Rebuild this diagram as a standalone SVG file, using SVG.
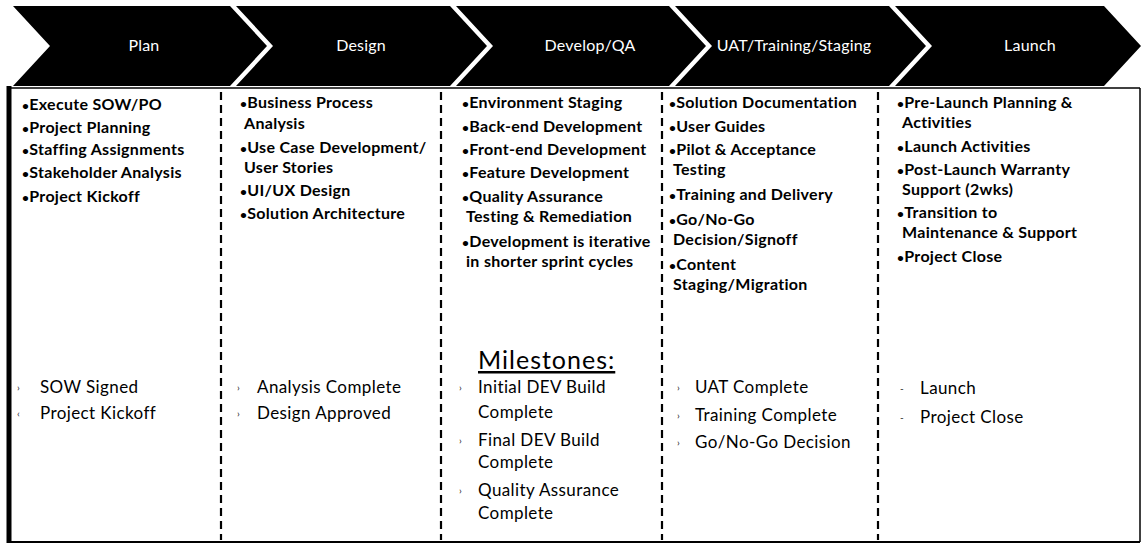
<svg xmlns="http://www.w3.org/2000/svg" width="1142" height="546" viewBox="0 0 1142 546">
  <style>
    .chev { fill: #000; }
    .head { font-family: Lato, "Open Sans", "Liberation Sans", sans-serif; font-size: 16px; letter-spacing: 0.2px; fill: #fff; text-anchor: middle; }
    .task { font-family: Lato, "Open Sans", "Liberation Sans", sans-serif; font-size: 16px; font-weight: 700; letter-spacing: 0.3px; fill: #000; }
    .bul { font-size: 12px; }
    .ms { font-family: Lato, "Open Sans", "Liberation Sans", sans-serif; font-size: 17px; letter-spacing: 0.4px; fill: #000; }
    .mb { font-family: Lato, "Liberation Sans", sans-serif; font-size: 10px; fill: #222; }
    .title { font-family: Lato, "Open Sans", "Liberation Sans", sans-serif; font-size: 25px; letter-spacing: 1px; fill: #000; text-decoration: underline; }
    .div { stroke: #000; stroke-width: 2.2; stroke-dasharray: 8 5; fill: none; }
    .frame { stroke: #000; fill: none; }
  </style>

  <rect width="1142" height="546" fill="#fff"/>

  <!-- outer frame of the phase table -->
  <g id="frame">
    <line class="frame" x1="9" y1="88" x2="1140" y2="88" stroke-width="1.5"/>
    <line class="frame" x1="1140" y1="88" x2="1140" y2="542" stroke-width="1.5"/>
    <line class="frame" x1="9" y1="542" x2="1140" y2="542" stroke-width="2.2"/>
    <line class="frame" x1="9" y1="86" x2="9" y2="543" stroke-width="5"/>
  </g>

  <!-- dashed column separators -->
  <g id="connectors">
    <line class="div" x1="221" y1="92" x2="221" y2="540"/>
    <line class="div" x1="441" y1="92" x2="441" y2="540"/>
    <line class="div" x1="662" y1="92" x2="662" y2="540"/>
    <line class="div" x1="878" y1="92" x2="878" y2="540"/>
  </g>

  <!-- Plan -->
  <g id="plan">
    <polygon class="chev" points="13,6 230,6 267,46 230,86 13,86 50,46"/>
    <text class="head" x="144" y="51">Plan</text>
    <text class="task" x="22" y="110"><tspan class="bul">•</tspan>Execute SOW/PO</text>
    <text class="task" x="22" y="133"><tspan class="bul">•</tspan>Project Planning</text>
    <text class="task" x="22" y="155"><tspan class="bul">•</tspan>Staffing Assignments</text>
    <text class="task" x="22" y="178"><tspan class="bul">•</tspan>Stakeholder Analysis</text>
    <text class="task" x="22" y="202"><tspan class="bul">•</tspan>Project Kickoff</text>
    <text class="mb" x="17" y="391">›</text>
    <text class="ms" x="40" y="393">SOW Signed</text>
    <text class="mb" x="17" y="417">‹</text>
    <text class="ms" x="40" y="419">Project Kickoff</text>
  </g>

  <!-- Design -->
  <g id="design">
    <polygon class="chev" points="236,6 450,6 487,46 450,86 236,86 273,46"/>
    <text class="head" x="361" y="51">Design</text>
    <text class="task" x="240" y="108"><tspan class="bul">•</tspan>Business Process</text>
    <text class="task" x="244" y="129">Analysis</text>
    <text class="task" x="240" y="153"><tspan class="bul">•</tspan>Use Case Development/</text>
    <text class="task" x="244" y="173">User Stories</text>
    <text class="task" x="240" y="196"><tspan class="bul">•</tspan>UI/UX Design</text>
    <text class="task" x="240" y="219"><tspan class="bul">•</tspan>Solution Architecture</text>
    <text class="mb" x="237" y="391">›</text>
    <text class="ms" x="257" y="393">Analysis Complete</text>
    <text class="mb" x="237" y="417">›</text>
    <text class="ms" x="257" y="419">Design Approved</text>
  </g>

  <!-- Develop/QA -->
  <g id="develop">
    <polygon class="chev" points="456,6 669,6 706,46 669,86 456,86 493,46"/>
    <text class="head" x="590" y="51">Develop/QA</text>
    <text class="task" x="462" y="108"><tspan class="bul">•</tspan>Environment Staging</text>
    <text class="task" x="462" y="132"><tspan class="bul">•</tspan>Back-end Development</text>
    <text class="task" x="462" y="155"><tspan class="bul">•</tspan>Front-end Development</text>
    <text class="task" x="462" y="178"><tspan class="bul">•</tspan>Feature Development</text>
    <text class="task" x="462" y="202"><tspan class="bul">•</tspan>Quality Assurance</text>
    <text class="task" x="466" y="222">Testing &amp; Remediation</text>
    <text class="task" x="462" y="247"><tspan class="bul">•</tspan>Development is iterative</text>
    <text class="task" x="466" y="267">in shorter sprint cycles</text>
    <text class="title" x="478" y="369">Milestones:</text>
    <text class="mb" x="459" y="391">›</text>
    <text class="ms" x="478" y="393">Initial DEV Build</text>
    <text class="ms" x="478" y="418">Complete</text>
    <text class="mb" x="459" y="444">›</text>
    <text class="ms" x="478" y="446">Final DEV Build</text>
    <text class="ms" x="478" y="468">Complete</text>
    <text class="mb" x="459" y="494">›</text>
    <text class="ms" x="478" y="496">Quality Assurance</text>
    <text class="ms" x="478" y="519">Complete</text>
  </g>

  <!-- UAT/Training/Staging -->
  <g id="uat">
    <polygon class="chev" points="675,6 889,6 926,46 889,86 675,86 712,46"/>
    <text class="head" x="794" y="51">UAT/Training/Staging</text>
    <text class="task" x="669" y="108"><tspan class="bul">•</tspan>Solution Documentation</text>
    <text class="task" x="669" y="132"><tspan class="bul">•</tspan>User Guides</text>
    <text class="task" x="669" y="155"><tspan class="bul">•</tspan>Pilot &amp; Acceptance</text>
    <text class="task" x="673" y="175">Testing</text>
    <text class="task" x="669" y="200"><tspan class="bul">•</tspan>Training and Delivery</text>
    <text class="task" x="669" y="225"><tspan class="bul">•</tspan>Go/No-Go</text>
    <text class="task" x="673" y="245">Decision/Signoff</text>
    <text class="task" x="669" y="270"><tspan class="bul">•</tspan>Content</text>
    <text class="task" x="673" y="290">Staging/Migration</text>
    <text class="mb" x="677" y="391">›</text>
    <text class="ms" x="695" y="393">UAT Complete</text>
    <text class="mb" x="677" y="419">›</text>
    <text class="ms" x="695" y="421">Training Complete</text>
    <text class="mb" x="677" y="446">›</text>
    <text class="ms" x="695" y="448">Go/No-Go Decision</text>
  </g>

  <!-- Launch -->
  <g id="launch">
    <polygon class="chev" points="895,6 1104,6 1141,46 1104,86 895,86 932,46"/>
    <text class="head" x="1030" y="51">Launch</text>
    <text class="task" x="897" y="108"><tspan class="bul">•</tspan>Pre-Launch Planning &amp;</text>
    <text class="task" x="902" y="128">Activities</text>
    <text class="task" x="897" y="152"><tspan class="bul">•</tspan>Launch Activities</text>
    <text class="task" x="897" y="175"><tspan class="bul">•</tspan>Post-Launch Warranty</text>
    <text class="task" x="902" y="195">Support (2wks)</text>
    <text class="task" x="897" y="218"><tspan class="bul">•</tspan>Transition to</text>
    <text class="task" x="902" y="238">Maintenance &amp; Support</text>
    <text class="task" x="897" y="262"><tspan class="bul">•</tspan>Project Close</text>
    <text class="mb" x="900" y="392">-</text>
    <text class="ms" x="920" y="394">Launch</text>
    <text class="mb" x="900" y="421">-</text>
    <text class="ms" x="920" y="423">Project Close</text>
  </g>
</svg>
